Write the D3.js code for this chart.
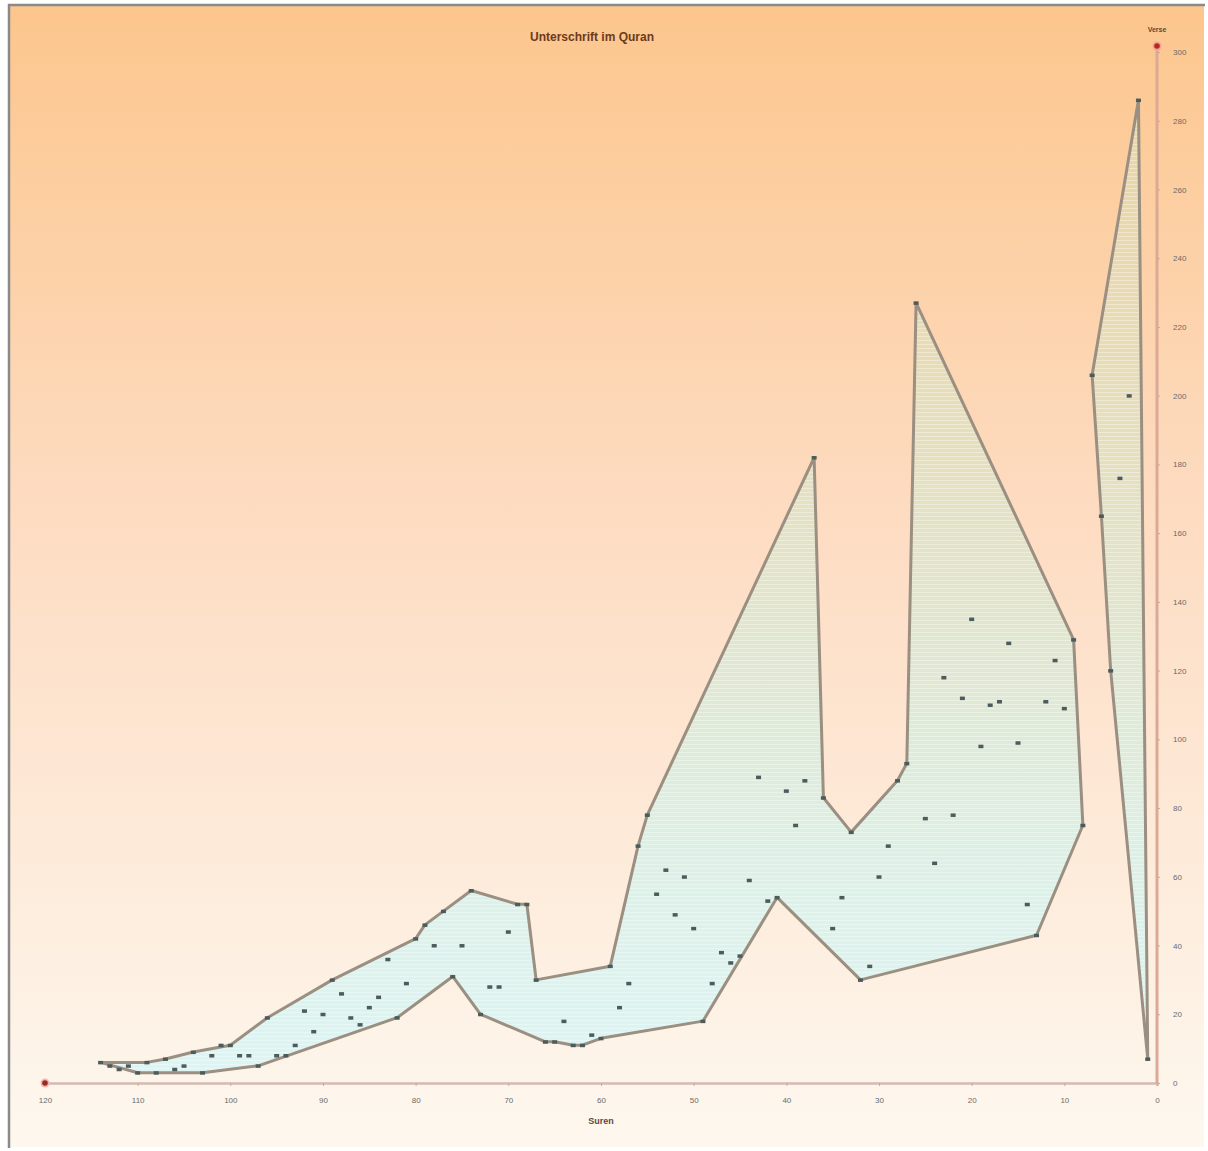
<!DOCTYPE html>
<html lang="de">
<head>
<meta charset="UTF-8">
<style>
body { margin: 0; background: #fff; font-family: "Liberation Sans", Arial, sans-serif; }
.tick text { fill: #6a6a6a; font-size: 8px; }
.chart-title { fill: #6b3a1c; font-size: 12px; font-weight: bold; text-anchor: middle; }
.axis-title { fill: #5a4a40; font-size: 9px; font-weight: bold; text-anchor: middle; }
</style>
<script src="https://cdnjs.cloudflare.com/ajax/libs/d3/7.8.5/d3.min.js"></script>
</head>
<body>
<div id="wrapper"></div>
<script>
// verses per surah as plotted, surah 1..114
const verses = [7, 286, 200, 176, 120, 165, 206, 75, 129, 109, 123, 111, 43, 52, 99, 128, 111, 110, 98, 135,
  112, 78, 118, 64, 77, 227, 93, 88, 69, 60, 34, 30, 73, 54, 45, 83, 182, 88, 75, 85,
  54, 53, 89, 59, 37, 35, 38, 29, 18, 45, 60, 49, 62, 55, 78, 69, 29, 22, 34, 13,
  14, 11, 11, 18, 12, 12, 30, 52, 52, 44, 28, 28, 20, 56, 40, 31, 50, 40, 46, 42,
  29, 19, 36, 25, 22, 17, 19, 26, 30, 20, 15, 21, 11, 8, 8, 19, 5, 8, 8, 11,
  11, 8, 3, 9, 5, 4, 7, 3, 6, 3, 5, 4, 5, 6]

// surahs on the outline of the band (upper edge, then lower edge back)
const bandUpper = [114, 109, 107, 104, 100, 96, 89, 80, 79, 77, 74, 69, 68, 67, 59, 56, 55, 37, 36, 33, 28, 27, 26, 9, 8]
const bandLower = [13, 32, 41, 49, 60, 62, 63, 65, 66, 73, 76, 82, 97, 103, 110]
const spike = [7, 2, 1, 5, 6]

const xTicks = d3.range(0, 121, 10)
const yTicks = d3.range(0, 301, 20)

const width = 1208
const height = 1151

const svg = d3.select('#wrapper').append('svg')
  .attr('width', width)
  .attr('height', height)

const defs = svg.append('defs')

const bg = defs.append('linearGradient')
  .attr('id', 'bg').attr('x1', 0).attr('y1', 0).attr('x2', 0).attr('y2', 1)
bg.append('stop').attr('offset', '0%').attr('stop-color', '#fcc68d')
bg.append('stop').attr('offset', '45%').attr('stop-color', '#fddcc2')
bg.append('stop').attr('offset', '100%').attr('stop-color', '#fdf8ef')

const bandFill = defs.append('linearGradient')
  .attr('id', 'bandFill').attr('gradientUnits', 'userSpaceOnUse')
  .attr('x1', 0).attr('y1', 90).attr('x2', 0).attr('y2', 1083)
bandFill.append('stop').attr('offset', '0%').attr('stop-color', '#ead5a6')
bandFill.append('stop').attr('offset', '25%').attr('stop-color', '#e8dbb6')
bandFill.append('stop').attr('offset', '55%').attr('stop-color', '#e1e6cf')
bandFill.append('stop').attr('offset', '80%').attr('stop-color', '#dcf1e8')
bandFill.append('stop').attr('offset', '100%').attr('stop-color', '#dcf6f5')

const hatch = defs.append('pattern')
  .attr('id', 'hatch').attr('patternUnits', 'userSpaceOnUse')
  .attr('width', 6).attr('height', 4)
hatch.append('line').attr('x1', 0).attr('x2', 6).attr('y1', 0.5).attr('y2', 0.5)
  .attr('stroke', '#ffffff').attr('stroke-opacity', 0.35)

// background and frame
svg.append('rect').attr('x', 8).attr('y', 5).attr('width', 1196).attr('height', 1142)
  .attr('fill', 'url(#bg)')
svg.append('path').attr('d', 'M9,1148 V5 H1205')
  .attr('fill', 'none').attr('stroke', '#8a8a8a').attr('stroke-width', 2.5)

const x = d3.scaleLinear().domain([120, 0]).range([45, 1157])
const y = d3.scaleLinear().domain([0, 300]).range([1083, 52])

// band + spike, drawn through the surah points
const line = d3.line()
  .x(s => x(s))
  .y(s => y(verses[s - 1]))
  .curve(d3.curveLinearClosed)

const shapes = [bandUpper.concat(bandLower), spike]

shapes.forEach(sh => {
  svg.append('path')
    .attr('d', line(sh))
    .attr('fill', 'url(#bandFill)')
  svg.append('path')
    .attr('d', line(sh))
    .attr('fill', 'url(#hatch)')
    .attr('stroke', '#9a8f80').attr('stroke-width', 3).attr('stroke-linejoin', 'round')
})

// axes
const xAxis = d3.axisBottom(x).tickValues(xTicks).tickSize(3).tickPadding(11)
const gx = svg.append('g').attr('transform', `translate(0,${y(0)})`).call(xAxis)
gx.select('.domain').attr('stroke', '#d4b9b2').attr('stroke-width', 2.5)
gx.selectAll('.tick line').attr('stroke', '#c9aaa2')

const yAxis = d3.axisRight(y).tickValues(yTicks).tickSize(3).tickPadding(13)
const gy = svg.append('g').attr('transform', `translate(${x(0)},0)`).call(yAxis)
gy.select('.domain').attr('stroke', '#dba996').attr('stroke-width', 3)
  .attr('d', `M0,${y(0)}V${y(300) - 6}`)
gy.selectAll('.tick line').attr('stroke', '#c9aaa2')

// arrow ends
svg.append('circle').attr('cx', x(120)).attr('cy', y(0)).attr('r', 4.5).attr('fill', '#f2b9b4')
svg.append('circle').attr('cx', x(120)).attr('cy', y(0)).attr('r', 2.8).attr('fill', '#9b2a24')
svg.append('circle').attr('cx', x(0)).attr('cy', y(300) - 6).attr('r', 4.5).attr('fill', '#f2a39a')
svg.append('circle').attr('cx', x(0)).attr('cy', y(300) - 6).attr('r', 2.8).attr('fill', '#b8281e')

// points
svg.selectAll('.pt')
  .data(verses)
  .join('rect')
  .attr('class', 'pt')
  .attr('x', (d, i) => x(i + 1) - 2.5)
  .attr('y', d => y(d) - 1.5)
  .attr('width', 5).attr('height', 3.5)
  .attr('fill', '#4c5c5c')

// texts
svg.append('text').attr('class', 'chart-title').attr('x', 592).attr('y', 41).text('Unterschrift im Quran')
svg.append('text').attr('class', 'axis-title').attr('x', 601).attr('y', 1124).text('Suren')
svg.append('text').attr('class', 'axis-title').attr('x', x(0)).attr('y', 32)
  .style('font-size', '7px').text('Verse')
</script>
</body>
</html>
